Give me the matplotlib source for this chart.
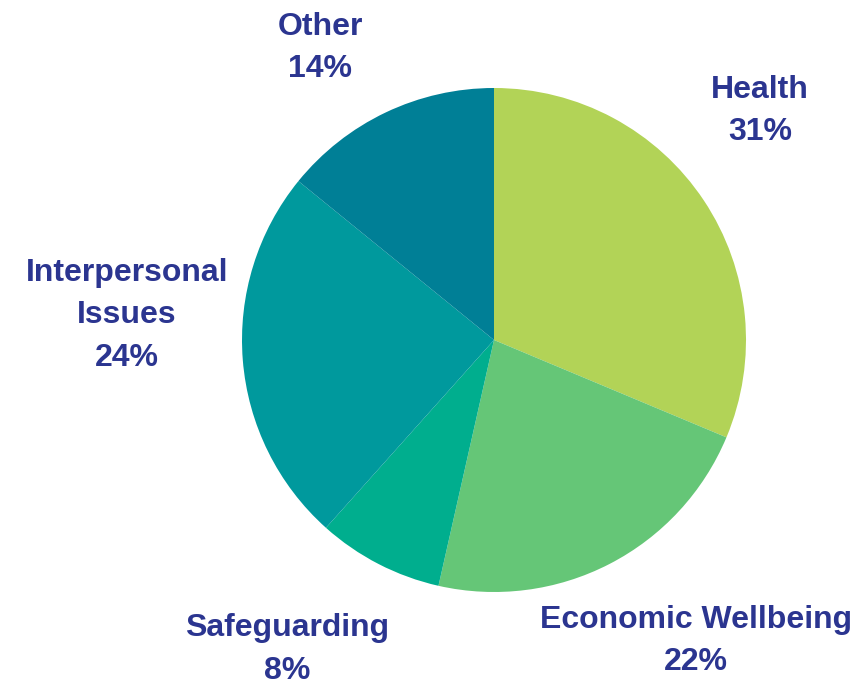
import numpy as np
import matplotlib.pyplot as plt

labels = ['Health', 'Economic Wellbeing', 'Safeguarding', 'Interpersonal\nIssues', 'Other']
values = [31, 22, 8, 24, 14]
colors = ['#B2D357', '#65C677', '#00AE8E', '#00999D', '#007F96']
# label distance (in radii) and small angular nudge (deg) per slice
label_dist = [1.393, 1.438, 1.479, 1.460, 1.349]
label_nudge = [7.1, 6.6, -6.5, -8.4, 5.3]

fig = plt.figure(figsize=(8.56, 6.85), dpi=100)
ax = fig.add_axes([0, 0, 1, 1])

wedges, _ = ax.pie(values, colors=colors, startangle=90, counterclock=False,
                   radius=1, wedgeprops=dict(linewidth=0))

for w, lab, v, d, n in zip(wedges, labels, values, label_dist, label_nudge):
    ang = np.deg2rad((w.theta1 + w.theta2) / 2 + n)
    ax.text(d * np.cos(ang), d * np.sin(ang), '%s\n%d%%' % (lab, v),
            ha='center', va='center', fontsize=23, fontweight='bold',
            family='Liberation Sans', color='#2B3590', linespacing=1.55)

ax.set_xlim(-494 / 252, 362 / 252)
ax.set_ylim(-345 / 252, 340 / 252)
ax.set_aspect('auto')
ax.axis('off')

plt.savefig('out.png', dpi=100)
